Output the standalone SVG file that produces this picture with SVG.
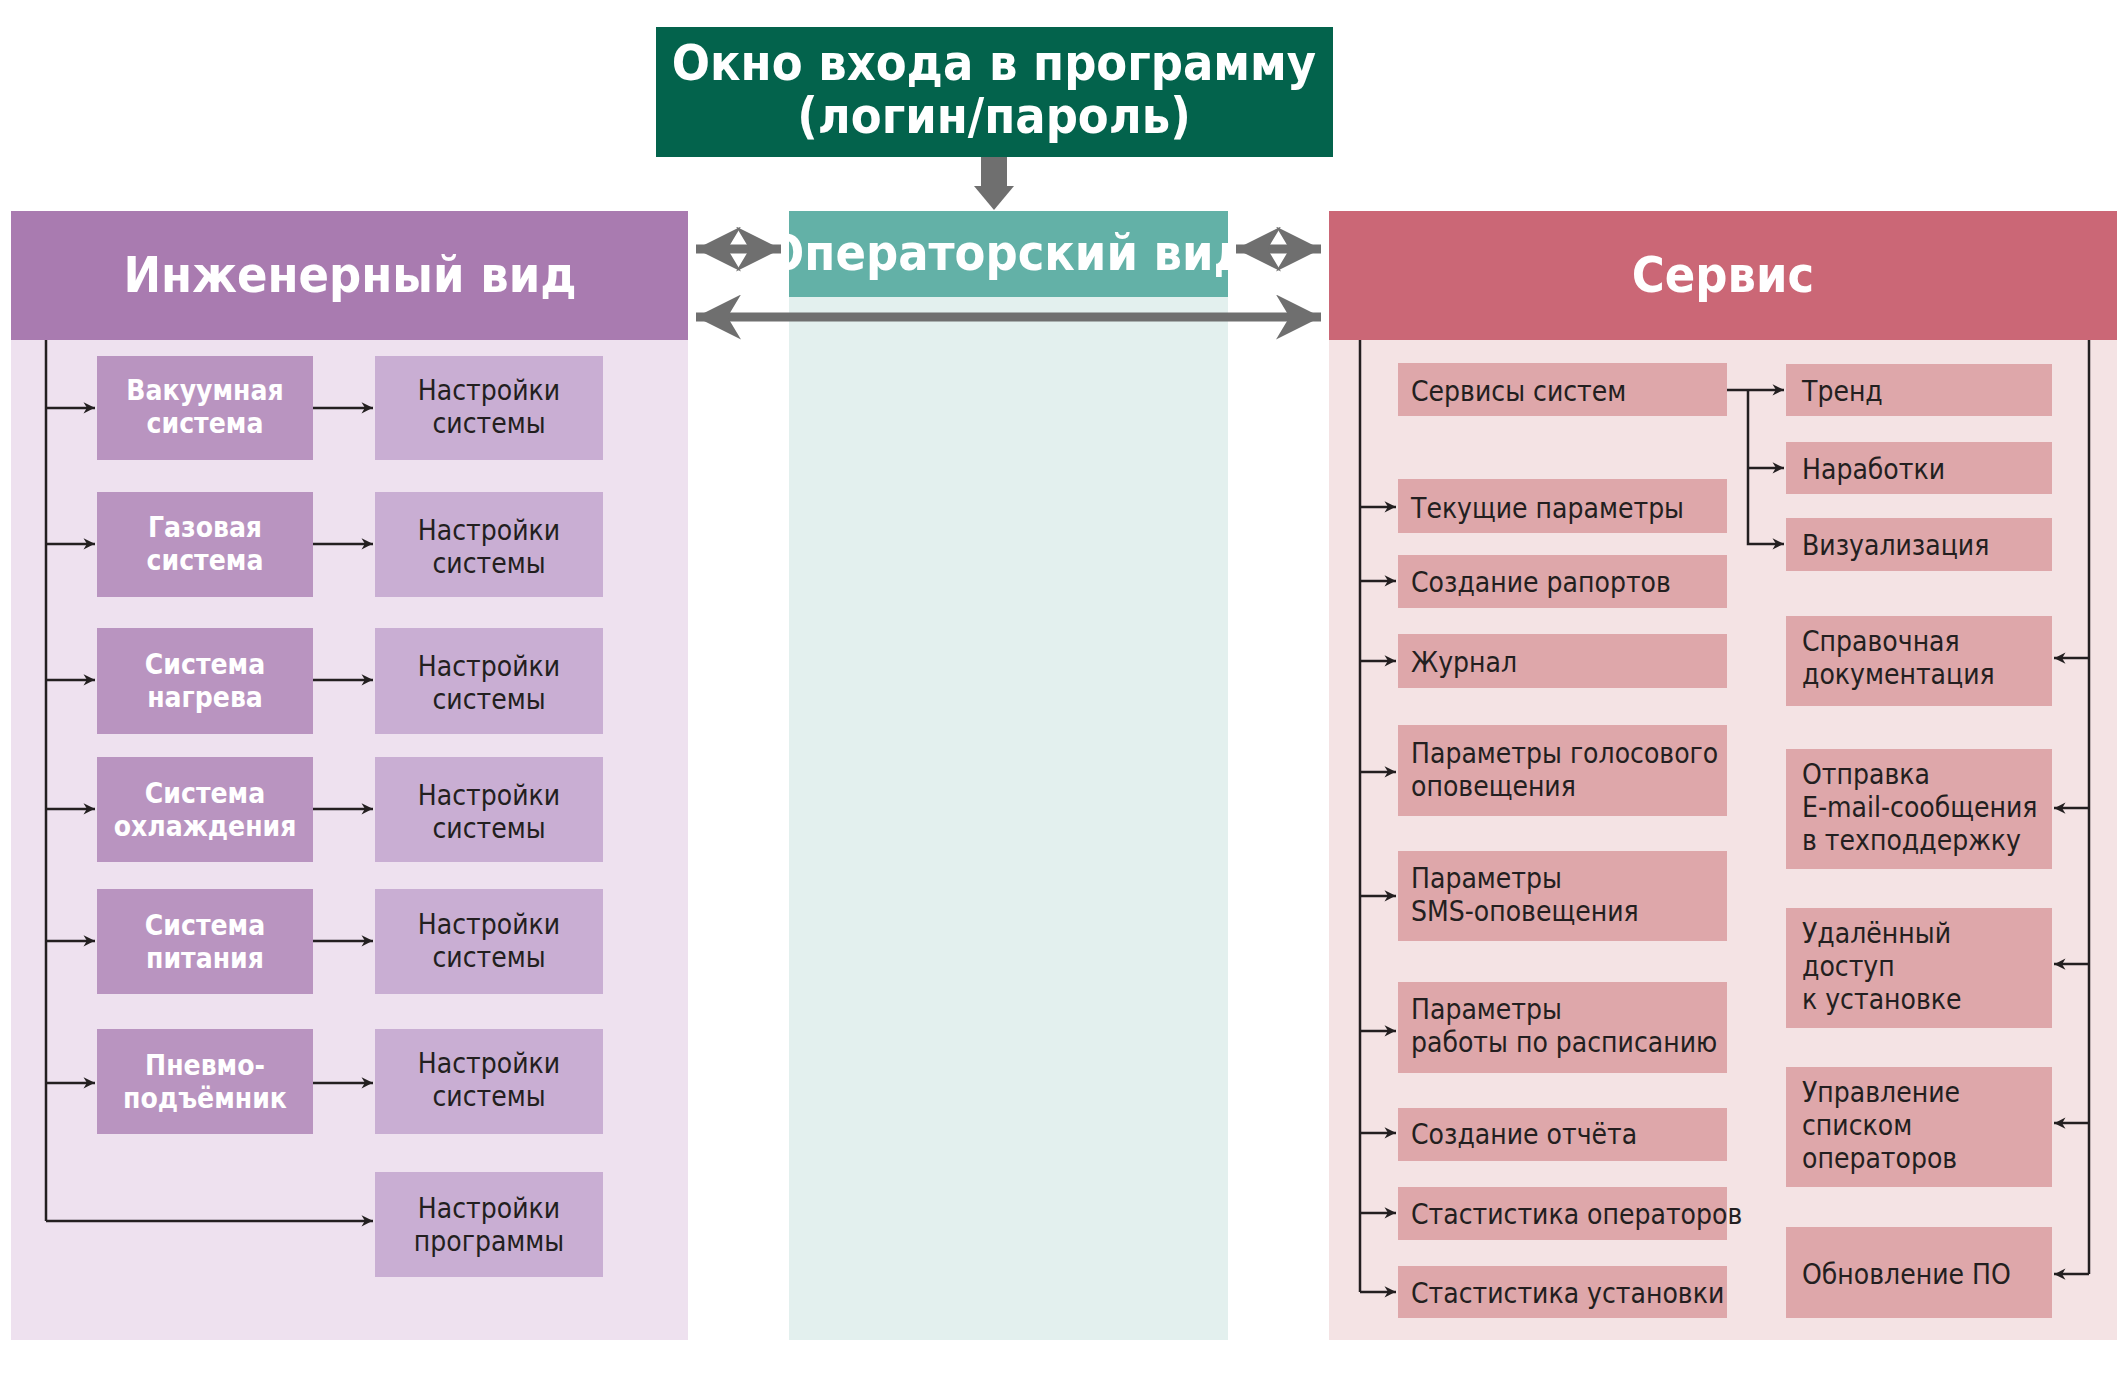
<svg xmlns="http://www.w3.org/2000/svg" width="2122" height="1376" viewBox="0 0 2122 1376">
<defs>
<style>
text{font-family:"DejaVu Sans Condensed","Liberation Sans Narrow","Roboto",sans-serif;font-stretch:condensed}
.t{font-size:50px;font-weight:bold;fill:#fff;text-anchor:middle}
.b{font-size:28px;fill:#231f20}
.w{font-size:28px;font-weight:bold;fill:#fff;text-anchor:middle}
.c{text-anchor:middle}
.ln{stroke:#231f20;stroke-width:2.5;fill:none}
.g{stroke:#6f6f6f;stroke-width:9;fill:none}
</style>
<marker id="a" viewBox="0 0 10 10" refX="10" refY="5" markerWidth="7" markerHeight="7" markerUnits="userSpaceOnUse" orient="auto" style="overflow:visible"><path d="M0,0 L10,5 L0,10 L3,5 Z" fill="#231f20" transform="scale(1.6) translate(-4,-2)"/></marker>
<marker id="ga" viewBox="0 0 10 10" refX="10" refY="5" markerWidth="5" markerHeight="5" orient="auto-start-reverse"><path d="M0,0 L10,5 L0,10 L3,5 Z" fill="#6f6f6f"/></marker>
</defs>
<rect width="2122" height="1376" fill="#fff"/>
<g id="login"><rect x="656" y="27" width="677" height="130" fill="#03634c"/><text class="t" x="994" y="80">Окно входа в программу</text><text class="t" x="994" y="133">(логин/пароль)</text></g>
<g id="eng"><rect x="11" y="340" width="677" height="1000" fill="#eee1ef"/><rect x="11" y="211" width="677" height="129" fill="#a97bb0"/><text class="t" x="350" y="292">Инженерный вид</text></g>
<g id="oper"><rect x="789" y="297" width="439" height="1043" fill="#e3f0ee"/><rect x="789" y="211" width="439" height="86" fill="#63b1a7"/><text class="t" x="1008" y="270">Операторский вид</text></g>
<g id="serv"><rect x="1329" y="340" width="788" height="1000" fill="#f4e3e4"/><rect x="1329" y="211" width="788" height="129" fill="#cb6776"/><text class="t" x="1723" y="292">Сервис</text></g>
<g id="eng-nodes">
<g fill="#b994c0"><rect x="97" y="356" width="216" height="104"/><rect x="97" y="492" width="216" height="105"/><rect x="97" y="628" width="216" height="106"/><rect x="97" y="757" width="216" height="105"/><rect x="97" y="889" width="216" height="105"/><rect x="97" y="1029" width="216" height="105"/></g>
<g fill="#c9aed3"><rect x="375" y="356" width="228" height="104"/><rect x="375" y="492" width="228" height="105"/><rect x="375" y="628" width="228" height="106"/><rect x="375" y="757" width="228" height="105"/><rect x="375" y="889" width="228" height="105"/><rect x="375" y="1029" width="228" height="105"/><rect x="375" y="1172" width="228" height="105"/></g>
<text class="w" x="205" y="400">Вакуумная</text><text class="w" x="205" y="433">система</text>
<text class="w" x="205" y="537">Газовая</text><text class="w" x="205" y="570">система</text>
<text class="w" x="205" y="674">Система</text><text class="w" x="205" y="707">нагрева</text>
<text class="w" x="205" y="803">Система</text><text class="w" x="205" y="836">охлаждения</text>
<text class="w" x="205" y="935">Система</text><text class="w" x="205" y="968">питания</text>
<text class="w" x="205" y="1075">Пневмо-</text><text class="w" x="205" y="1108">подъёмник</text>
<g class="b c"><text x="489" y="400">Настройки</text><text x="489" y="433">системы</text>
<text x="489" y="540">Настройки</text><text x="489" y="573">системы</text>
<text x="489" y="676">Настройки</text><text x="489" y="709">системы</text>
<text x="489" y="805">Настройки</text><text x="489" y="838">системы</text>
<text x="489" y="934">Настройки</text><text x="489" y="967">системы</text>
<text x="489" y="1073">Настройки</text><text x="489" y="1106">системы</text>
<text x="489" y="1218">Настройки</text><text x="489" y="1251">программы</text></g>
</g>
<g id="serv-nodes">
<g fill="#dea7aa"><rect x="1398" y="363" width="329" height="53"/><rect x="1398" y="479" width="329" height="54"/><rect x="1398" y="555" width="329" height="53"/><rect x="1398" y="634" width="329" height="54"/><rect x="1398" y="725" width="329" height="91"/><rect x="1398" y="851" width="329" height="90"/><rect x="1398" y="982" width="329" height="91"/><rect x="1398" y="1108" width="329" height="53"/><rect x="1398" y="1187" width="329" height="53"/><rect x="1398" y="1266" width="329" height="52"/>
<rect x="1786" y="364" width="266" height="52"/><rect x="1786" y="442" width="266" height="52"/><rect x="1786" y="518" width="266" height="53"/><rect x="1786" y="616" width="266" height="90"/><rect x="1786" y="749" width="266" height="120"/><rect x="1786" y="908" width="266" height="120"/><rect x="1786" y="1067" width="266" height="120"/><rect x="1786" y="1227" width="266" height="91"/></g>
<g class="b"><text x="1411" y="401">Сервисы систем</text><text x="1411" y="518">Текущие параметры</text><text x="1411" y="592">Создание рапортов</text><text x="1411" y="672">Журнал</text>
<text x="1411" y="763">Параметры голосового</text><text x="1411" y="796">оповещения</text>
<text x="1411" y="888">Параметры</text><text x="1411" y="921">SMS-оповещения</text>
<text x="1411" y="1019">Параметры</text><text x="1411" y="1052">работы по расписанию</text>
<text x="1411" y="1144">Создание отчёта</text><text x="1411" y="1224">Стастистика операторов</text><text x="1411" y="1303">Стастистика установки</text>
<text x="1802" y="401">Тренд</text><text x="1802" y="479">Наработки</text><text x="1802" y="555">Визуализация</text>
<text x="1802" y="651">Справочная</text><text x="1802" y="684">документация</text>
<text x="1802" y="784">Отправка</text><text x="1802" y="817">E-mail-сообщения</text><text x="1802" y="850">в техподдержку</text>
<text x="1802" y="943">Удалённый</text><text x="1802" y="976">доступ</text><text x="1802" y="1009">к установке</text>
<text x="1802" y="1102">Управление</text><text x="1802" y="1135">списком</text><text x="1802" y="1168">операторов</text>
<text x="1802" y="1284">Обновление ПО</text></g>
</g>
<g id="connectors">
<path d="M994,157 V188" stroke="#6f6f6f" stroke-width="26" fill="none"/><path d="M974,186 L1014,186 L994,210 Z" fill="#6f6f6f"/>
<line class="g" x1="696" y1="249" x2="781" y2="249" marker-start="url(#ga)" marker-end="url(#ga)"/>
<line class="g" x1="1236" y1="249" x2="1321" y2="249" marker-start="url(#ga)" marker-end="url(#ga)"/>
<line class="g" x1="696" y1="317" x2="1321" y2="317" marker-start="url(#ga)" marker-end="url(#ga)"/>
<path class="ln" d="M46,340 V1221"/>
<g class="ln" marker-end="url(#a)"><path d="M46,408 H95"/><path d="M46,544 H95"/><path d="M46,680 H95"/><path d="M46,809 H95"/><path d="M46,941 H95"/><path d="M46,1083 H95"/><path d="M46,1221 H373"/>
<path d="M313,408 H373"/><path d="M313,544 H373"/><path d="M313,680 H373"/><path d="M313,809 H373"/><path d="M313,941 H373"/><path d="M313,1083 H373"/></g>
<path class="ln" d="M1360,340 V1292"/>
<g class="ln" marker-end="url(#a)"><path d="M1360,507 H1396"/><path d="M1360,581 H1396"/><path d="M1360,661 H1396"/><path d="M1360,772 H1396"/><path d="M1360,896 H1396"/><path d="M1360,1031 H1396"/><path d="M1360,1133 H1396"/><path d="M1360,1213 H1396"/><path d="M1360,1292 H1396"/>
<path d="M1727,390 H1784"/><path d="M1748,390 V544 H1784"/><path d="M1748,468 H1784"/></g>
<path class="ln" d="M2089,340 V1274"/>
<g class="ln" marker-end="url(#a)"><path d="M2089,658 H2054"/><path d="M2089,808 H2054"/><path d="M2089,964 H2054"/><path d="M2089,1123 H2054"/><path d="M2089,1274 H2054"/></g>
</g>
</svg>
